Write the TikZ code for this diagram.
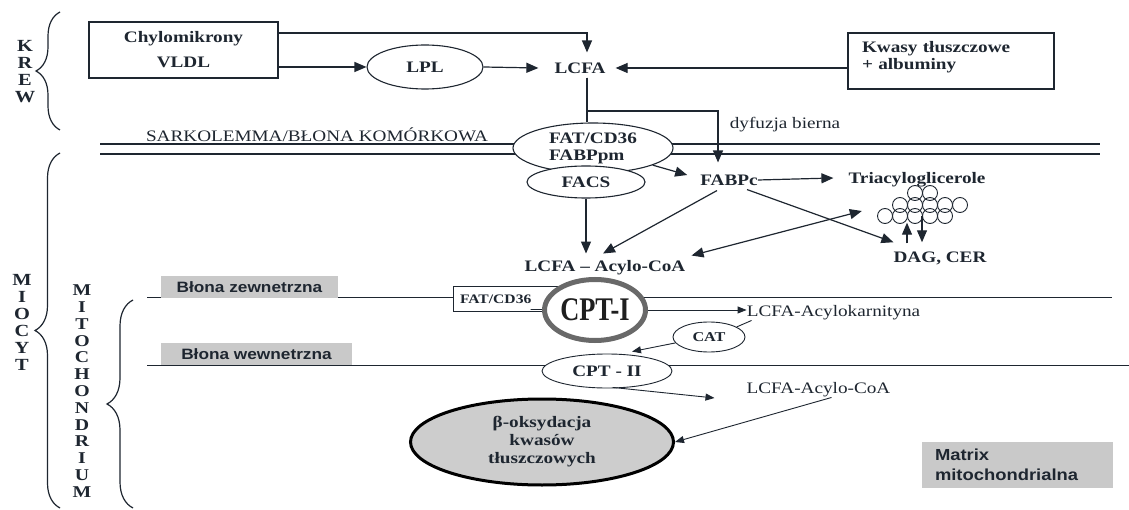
\documentclass[tikz,border=0pt]{standalone}
\usepackage{fontspec}
\setmainfont{Liberation Serif}[FakeStretch=1.2]
\newfontfamily\cptfont{Liberation Serif}[FakeStretch=0.8]
\newfontfamily\arialx{Liberation Sans}[FakeStretch=1.15]
\usetikzlibrary{arrows.meta,shapes.geometric,decorations.pathreplacing}
\definecolor{ink}{RGB}{30,38,48}
\definecolor{boxgray}{RGB}{201,201,201}
\definecolor{cptgray}{RGB}{105,105,105}
\definecolor{betagray}{RGB}{205,205,205}
\begin{document}
\begin{tikzpicture}[x=1pt,y=-1pt,
  bf/.style={font=\bfseries\fontsize{16}{18}\selectfont, text=ink, inner sep=0pt},
  rg/.style={font=\fontsize{16}{18}\selectfont, text=ink, inner sep=0pt},
  vert/.style={font=\bfseries\fontsize{17}{17}\selectfont, text=ink, align=center, inner sep=0pt},
  ell/.style={ellipse, draw=ink, line width=1.1pt, fill=white, inner sep=0pt},
  rbox/.style={rectangle, draw=ink, line width=1.4pt, fill=white},
  gbox/.style={rectangle, fill=boxgray, text=ink, font=\arialx\bfseries\fontsize{15}{18}\selectfont, inner sep=0pt},
  ln/.style={draw=ink, line width=1.2pt},
  arr/.style={ln, -{Triangle[length=12pt,width=10pt]}},
  arrs/.style={draw=ink, line width=0.9pt, -{Triangle[length=9pt,width=7pt]}},
  brc/.style={draw=ink, line width=1.2pt, decorate, decoration={brace, amplitude=#1}},
  brc/.default=24pt
]
\useasboundingbox (0,0) rectangle (1129,510);
\fill[white] (0,0) rectangle (1129,510);

% side labels and braces
\node[vert] (krew) at (25,72) {K\\R\\E\\W};
\draw[brc=24pt] (60,130) -- (60,12);
\node[vert] (miocyt) at (22,322) {M\\I\\O\\C\\Y\\T};
\draw[brc=25pt] (60,508) -- (60,153);
\node[vert, font=\bfseries\fontsize{16.5}{16.8}\selectfont] (mito) at (82,391) {M\\I\\T\\O\\C\\H\\O\\N\\D\\R\\I\\U\\M};
\draw[brc=26pt] (133,508) -- (133,300);

% blood
\node[rbox, bf, minimum width=189, minimum height=56, align=center] (chylo) at (183.5,50) {Chylomikrony\\[7pt]VLDL};
\node[ell, bf, minimum width=116, minimum height=44] (lpl) at (425,67) {LPL};
\node[bf] (lcfa) at (580,68) {LCFA};
\node[rbox, bf, minimum width=206, minimum height=56, text width=178, align=left, inner xsep=14pt] (kwasy) at (951,61) {Kwasy tłuszczowe\\[-1pt]+ albuminy\\[-6pt]\mbox{}};

% sarcolemma
\draw[ln, line width=1.1pt] (100,144) -- (1100,144);
\draw[ln, line width=1.1pt] (100,154) -- (1100,154);
\node[rg] (sark) at (317,135) {SARKOLEMMA/BŁONA KOMÓRKOWA};
\node[rg] (dyf) at (785,125) {dyfuzja bierna};
\node[ell, bf, minimum width=160, minimum height=50, align=left] (fat) at (593,148) {FAT/CD36\\[-1pt]FABPpm};
\node[ell, bf, minimum width=118, minimum height=32] (facs) at (586,182) {FACS};

% cytosol
\node[bf] (fabpc) at (729,180) {FABPc};
\node[bf] (tri) at (917,180) {Triacyloglicerole};
\foreach \cx/\cy in {915/193,930/193,900/205,915/205,930/205,945/205,960/205,885/216,900/216,915/216,930/216,945/216}
  \draw[ink, line width=0.9pt] (\cx,\cy) circle[radius=7.5];
\node[inner sep=0pt, minimum width=88, minimum height=37] (tag) at (922,205) {};
\node[bf] (dag) at (940,258) {DAG, CER};
\node[bf] (lcfacoa) at (605,268) {LCFA – Acylo-CoA};

% mitochondrion
\draw[ln, line width=1pt] (147,298) -- (1112,298);
\draw[ln, line width=1pt] (147,365) -- (1129,365);
\node[gbox, minimum width=177, minimum height=22] (bz) at (249.5,287) {Błona zewnetrzna};
\node[gbox, minimum width=191, minimum height=22] (bw) at (256.5,354) {Błona wewnetrzna};
\node[rbox, line width=1pt, minimum width=107, minimum height=25, text width=93, align=left, inner xsep=7pt, inner ysep=0pt, font=\bfseries\fontsize{13}{15}\selectfont, text=ink] (fatbox) at (506.5,299.5) {FAT/CD36};
\coordinate (cptc) at (595,310);
\draw[ln, line width=0.8pt] ([shift={(24,-3)}]fatbox.south) -- (cptc);
\node[ellipse, draw=cptgray, line width=5pt, fill=white, minimum width=101, minimum height=61, inner sep=0pt, font=\cptfont\bfseries\fontsize{33}{33}\selectfont, text=black!88] (cpt1) at (cptc) {CPT-I};
\node[rg] (acylok) at (833.5,313) {LCFA-Acylokarnityna};
\node[ell, line width=0.9pt, minimum width=72, minimum height=30, font=\bfseries\fontsize{13.5}{15}\selectfont, text=ink] (cat) at (709,337) {CAT};
\node[ell, line width=0.9pt, bf, minimum width=130, minimum height=34] (cpt2) at (607,371) {CPT - II};
\node[rg] (acyl2) at (818.5,390) {LCFA-Acylo-CoA};
\node[ellipse, draw=black, line width=3pt, fill=betagray, minimum width=263, minimum height=86, inner sep=0pt, align=center, font=\bfseries\fontsize{16}{18}\selectfont, text=ink] (beta) at (542,442) {β-oksydacja\\kwasów\\tłuszczowych};
\node[gbox, minimum width=191, minimum height=46, text width=165, align=left, inner xsep=13pt, font=\arialx\bfseries\fontsize{16}{20}\selectfont] (matrix) at (1017.5,465) {Matrix\\mitochondrialna};

% connectors (top)
\draw[arr] ([shift={(0,-17)}]chylo.east) -| ([shift={(7,-10)}]lcfa.north);
\draw[arr] (chylo.east |- lpl.west) -- (lpl.west);
\draw[arr] (lpl.east) -- ([shift={(-16,0)}]lcfa.west);
\draw[arr] (kwasy.west |- lcfa.east) -- ([shift={(10,0)}]lcfa.east);
\coordinate (bend) at (718,111);
\draw[ln] ([shift={(7,4)}]lcfa.south) -- ([shift={(-6,0)}]fat.north);
\draw[arr] ([shift={(7,4)}]lcfa.south) |- (bend) -- ([shift={(-11,-12)}]fabpc.north);
\draw[arr] (fat.-16) -- ([shift={(-13,-5)}]fabpc.west);
\draw[arr] (fabpc.east) -- ([shift={(-15,-2)}]tri.west);
\draw[arr] (facs.south) -- ([shift={(-19,-7)}]lcfacoa.north);
\draw[arr] ([shift={(-12,5)}]fabpc.south) -- ([shift={(-2,-7)}]lcfacoa.north);
\draw[arr, {Triangle[length=12pt,width=10pt]}-{Triangle[length=12pt,width=10pt]}] ([shift={(6,-5)}]lcfacoa.north east) -- ([shift={(-16,6)}]tag.west);
\draw[arr] ([shift={(18,4)}]fabpc.south) -- ([shift={(0,-9)}]dag.north west);
\draw[arr] ([shift={(-33,-8)}]dag.north) -- ([shift={(-15,-1)}]tag.south);
\draw[arr] ([shift={(0,-8)}]tag.south) -- ([shift={(-18,-9)}]dag.north);

% connectors (mitochondrion)
\draw[arrs] (cpt1.east) -- (cpt1.east -| acylok.west);
\draw[ln, line width=0.9pt] ([shift={(5,0)}]acylok.south west) -- (cat.20);
\draw[arrs] (cat.190) -- ([shift={(25,-2)}]cpt2.north);
\draw[arrs] ([shift={(6,-1)}]cpt2.south) -- ([shift={(-32,8)}]acyl2.west);
\draw[arrs] ([shift={(13,0)}]acyl2.south) -- (beta.east);
\end{tikzpicture}
\end{document}
